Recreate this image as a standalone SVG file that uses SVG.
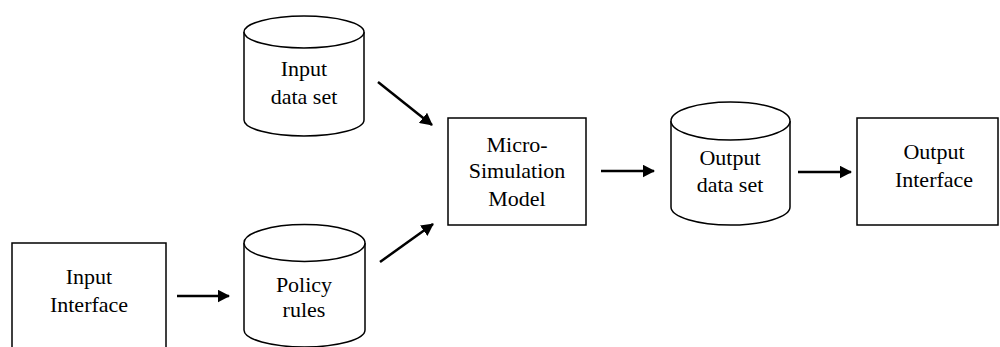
<svg xmlns="http://www.w3.org/2000/svg" width="1000" height="347" viewBox="0 0 1000 347">
<style>
.box{fill:#fff;stroke:#000;stroke-width:1.5}
.cyl{fill:#fff;stroke:#000;stroke-width:1.5}
.lbl{font-family:'Liberation Serif','Times New Roman','DejaVu Serif',serif;font-size:22px;fill:#000;text-anchor:middle}
.arr{stroke:#000;stroke-width:2.5;fill:none;marker-end:url(#ah)}
</style>
<defs>
<marker id="ah" markerWidth="5" markerHeight="5.2" refX="4.6" refY="2.6" orient="auto" markerUnits="strokeWidth">
<path d="M0,0 L5,2.6 L0,5.2 Z" fill="#000"/>
</marker>
</defs>
<rect width="1000" height="347" fill="#fff"/>
<g id="input-data-set">
<path class="cyl" d="M244,32 A60,16 0 0 1 364,32 L364,120 A60,16 0 0 1 244,120 Z"/>
<path class="cyl" d="M244,32 A60,16 0 0 0 364,32"/>
<text class="lbl" x="304" y="76">Input</text>
<text class="lbl" x="304" y="104">data set</text>
</g>
<g id="policy-rules">
<path class="cyl" d="M244,243 A60.5,18.5 0 0 1 365,243 L365,330 A60.5,17 0 0 1 244,330 Z"/>
<path class="cyl" d="M244,243 A60.5,18.5 0 0 0 365,243"/>
<text class="lbl" x="304" y="292">Policy</text>
<text class="lbl" x="304" y="317">rules</text>
</g>
<g id="input-interface">
<rect class="box" x="12" y="243" width="154" height="120"/>
<text class="lbl" x="89" y="284">Input</text>
<text class="lbl" x="89" y="312">Interface</text>
</g>
<g id="micro-simulation-model">
<rect class="box" x="448" y="118" width="138" height="107"/>
<text class="lbl" x="517" y="152">Micro-</text>
<text class="lbl" x="517" y="178">Simulation</text>
<text class="lbl" x="517" y="206">Model</text>
</g>
<g id="output-data-set">
<path class="cyl" d="M671,121 A59.5,19 0 0 1 790,121 L790,207 A59.5,18 0 0 1 671,207 Z"/>
<path class="cyl" d="M671,121 A59.5,19 0 0 0 790,121"/>
<text class="lbl" x="730" y="165">Output</text>
<text class="lbl" x="730" y="192">data set</text>
</g>
<g id="output-interface">
<rect class="box" x="857" y="118" width="141" height="107"/>
<text class="lbl" x="934" y="159">Output</text>
<text class="lbl" x="934" y="187">Interface</text>
</g>
<g id="connectors">
<line class="arr" x1="378" y1="82" x2="432" y2="125"/>
<line class="arr" x1="380" y1="262" x2="433" y2="224"/>
<line class="arr" x1="177" y1="296" x2="229" y2="296"/>
<line class="arr" x1="601" y1="171" x2="654" y2="171"/>
<line class="arr" x1="798" y1="172" x2="851" y2="172"/>
</g>
</svg>
